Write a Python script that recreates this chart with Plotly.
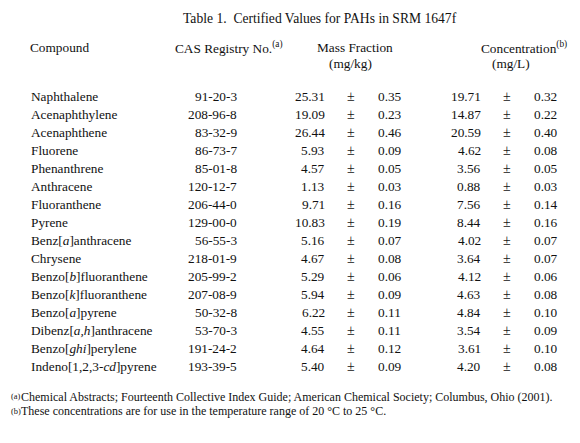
import plotly.graph_objects as go

title = "Table 1.  Certified Values for PAHs in SRM 1647f"
headers = ["Compound", "CAS Registry No.<sup>(a)</sup>", "Mass Fraction", "(mg/kg)",
           "Concentration<sup>(b)</sup>", "(mg/L)"]
compounds = ["Naphthalene", "Acenaphthylene", "Acenaphthene", "Fluorene", "Phenanthrene",
             "Anthracene", "Fluoranthene", "Pyrene", "Benz[<i>a</i>]anthracene", "Chrysene",
             "Benzo[<i>b</i>]fluoranthene", "Benzo[<i>k</i>]fluoranthene", "Benzo[<i>a</i>]pyrene",
             "Dibenz[<i>a,h</i>]anthracene", "Benzo[<i>ghi</i>]perylene", "Indeno[1,2,3-<i>cd</i>]pyrene"]
cas = ["91-20-3", "208-96-8", "83-32-9", "86-73-7", "85-01-8", "120-12-7", "206-44-0",
       "129-00-0", "56-55-3", "218-01-9", "205-99-2", "207-08-9", "50-32-8", "53-70-3",
       "191-24-2", "193-39-5"]
mass = ["25.31", "19.09", "26.44", "5.93", "4.57", "1.13", "9.71", "10.83", "5.16", "4.67",
        "5.29", "5.94", "6.22", "4.55", "4.64", "5.40"]
mass_unc = ["0.35", "0.23", "0.46", "0.09", "0.05", "0.03", "0.16", "0.19", "0.07", "0.08",
            "0.06", "0.09", "0.11", "0.11", "0.12", "0.09"]
conc = ["19.71", "14.87", "20.59", "4.62", "3.56", "0.88", "7.56", "8.44", "4.02", "3.64",
        "4.12", "4.63", "4.84", "3.54", "3.61", "4.20"]
conc_unc = ["0.32", "0.22", "0.40", "0.08", "0.05", "0.03", "0.14", "0.16", "0.07", "0.07",
            "0.06", "0.08", "0.10", "0.09", "0.10", "0.08"]
footnote_marks = ["<sup>(a)</sup>", "<sup>(b)</sup>"]
footnotes = ["Chemical Abstracts; Fourteenth Collective Index Guide; American Chemical Society; Columbus, Ohio (2001).",
             "These concentrations are for use in the temperature range of 20 °C to 25 °C."]

FONT = "Times New Roman"
COLOR = "#111111"
FS = 13.3
OFF = 8  # page body margin

fig = go.Figure()
fig.add_trace(go.Scatter(x=[OFF + 10], y=[0], mode="markers", marker=dict(opacity=0),
                         hoverinfo="skip", showlegend=False))

anns = []

def add(x, y, text, anchor, size=FS):
    anns.append(dict(x=x, y=y, xref="x", yref="y", text=text, showarrow=False,
                     xanchor=anchor, yanchor="middle",
                     font=dict(family=FONT, size=size, color=COLOR)))

add(181, -4.33, title, "left", 13.6)
add(28, -2.72, headers[0], "left")
add(173, -2.72, headers[1], "left")
add(355, -2.72, headers[2], "center")
add(350, -1.83, headers[3], "center")
add(479, -2.72, headers[4], "left")
add(511, -1.83, headers[5], "center")

for i in range(len(compounds)):
    add(29, i, compounds[i], "left")
    add(239, i, cas[i], "right")
    add(327, i, mass[i], "right")
    add(351, i, "±", "center", 14)
    add(376, i, mass_unc[i], "left")
    add(483, i, conc[i], "right")
    add(507, i, "±", "center", 14)
    add(532, i, conc_unc[i], "left")

for k in range(len(footnotes)):
    yk = 16.72 + 0.8 * k
    add(8.5, yk, footnote_marks[k], "left", 12)
    add(19, yk, footnotes[k], "left", 12)

r0 = -(96 - OFF) / 18
fig.update_layout(
    width=580, height=443,
    margin=dict(l=0, r=0, t=0, b=0),
    paper_bgcolor="white", plot_bgcolor="white",
    font=dict(family=FONT, color=COLOR),
    annotations=anns,
    xaxis=dict(range=[OFF, 580 + OFF], visible=False, fixedrange=True),
    yaxis=dict(range=[r0 + 443 / 18, r0], visible=False, fixedrange=True),
    showlegend=False,
)
fig.write_html("out.html", config={"displayModeBar": False})
